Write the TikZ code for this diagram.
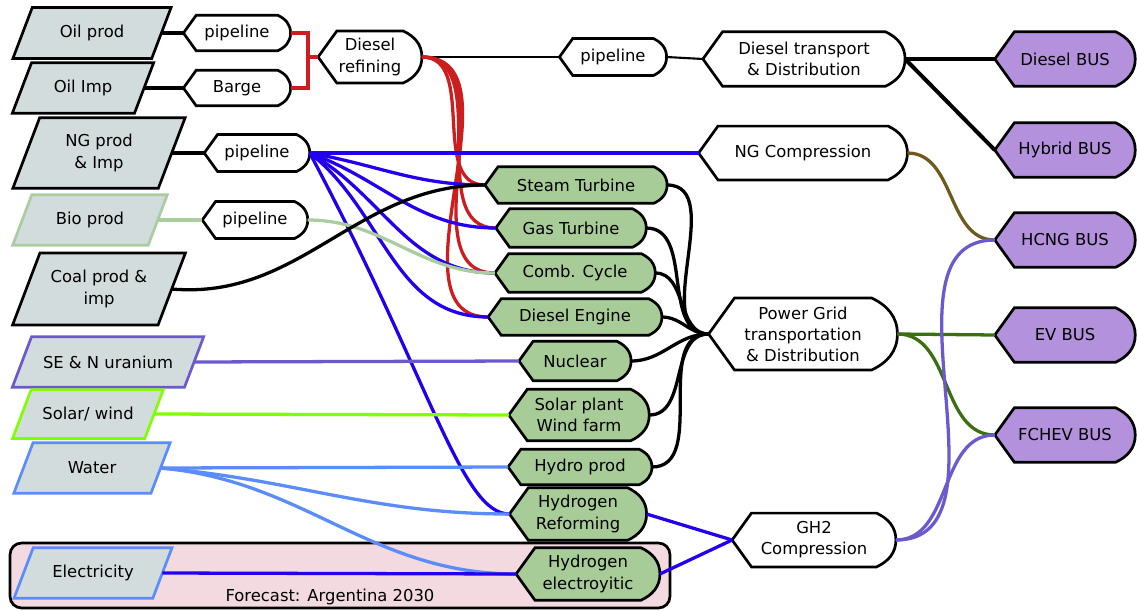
\documentclass[tikz,border=0pt]{standalone}
\usepackage{fontspec}
\setmainfont{DejaVu Sans}
\usetikzlibrary{shapes,backgrounds,calc}
\definecolor{srcgray}{RGB}{211,220,220}
\definecolor{procgreen}{RGB}{168,204,152}
\definecolor{buspurple}{RGB}{180,145,220}
\definecolor{fcpink}{RGB}{242,218,224}
\definecolor{oilred}{RGB}{204,30,30}
\definecolor{ngblue}{RGB}{34,0,238}
\definecolor{biogreen}{RGB}{170,205,160}
\definecolor{uranslate}{RGB}{106,90,205}
\definecolor{solarlime}{RGB}{127,255,0}
\definecolor{waterblue}{RGB}{90,140,250}
\definecolor{hcngbrown}{RGB}{110,90,30}
\definecolor{evgreen}{RGB}{60,110,20}

% outline of a display node: pointed left, rounded right
\newcommand{\dispshape}[2]{%
  \draw[outline, fill=#2] let \p1=(#1.north east), \p2=(#1.south west),
      \n1={0.36*(\y1-\y2)} in
    (#1.west) -- (\x2+\n1,\y1) -- (\x1-\n1,\y1) to[out=-25,in=90] (#1.east)
    to[out=-90,in=25] (\x1-\n1,\y2) -- (\x2+\n1,\y2) -- cycle;}
% outline of a source node: slanted box
\newcommand{\paraoutline}[2]{%
  \draw[outline, draw=#2, fill=srcgray] let \p1=(#1.north east), \p2=(#1.south west),
      \n1={0.19*(\y1-\y2)} in
    (\x2+\n1,\y1) -- (\x1+\n1,\y1) -- (\x1-\n1,\y2) -- (\x2-\n1,\y2) -- cycle;}

\begin{document}
\begin{tikzpicture}[
    x=0.03cm, y=-0.03cm,
    font=\fontsize{14}{18}\selectfont,
    src/.style={inner sep=0pt, align=center},
    disp/.style={inner sep=0pt, align=center},
    outline/.style={draw=black, line width=2.3pt},
    conn/.style={line width=2.8pt}
]
\useasboundingbox (0,0) rectangle (1137,610);

% Sources
\node[src, minimum width=4.15cm, minimum height=1.52cm] (oilprod) at (92,33) {Oil prod};
\node[src, minimum width=3.65cm, minimum height=1.5cm] (oilimp) at (83,88) {Oil Imp};
\node[src, minimum width=4.35cm, minimum height=2.1cm] (ngprod) at (99,153) {NG prod\\ \& Imp};
\node[src, minimum width=4.05cm, minimum height=1.5cm] (bioprod) at (90,220) {Bio prod};
\node[src, minimum width=4.35cm, minimum height=2.15cm] (coal) at (99,289) {Coal prod \&\\imp};
\node[src, minimum width=5.15cm, minimum height=1.5cm] (uranium) at (108,362) {SE \& N uranium};
\node[src, minimum width=3.95cm, minimum height=1.45cm] (solarwind) at (88,414) {Solar/ wind};
\node[src, minimum width=4.1cm, minimum height=1.5cm] (water) at (92,468) {Water};
\node[src, minimum width=4.15cm, minimum height=1.5cm] (elec) at (93,573) {Electricity};

% Carriers and hubs
\node[disp, minimum width=3.2cm, minimum height=1.05cm] (pipeoil) at (237,33) {pipeline};
\node[disp, minimum width=3.2cm, minimum height=1.05cm] (barge) at (237,88) {Barge};
\node[disp, minimum width=3.15cm, minimum height=1.1cm] (pipeng) at (257,153) {pipeline};
\node[disp, minimum width=3.15cm, minimum height=1.1cm] (pipebio) at (255,220) {pipeline};
\node[disp, minimum width=3.1cm, minimum height=1.55cm] (refine) at (370,57) {Diesel\\refining};
\node[disp, minimum width=3.2cm, minimum height=1.1cm] (pipediesel) at (613,57) {pipeline};
\node[disp, minimum width=6.05cm, minimum height=1.62cm] (diesdist) at (804,59) {Diesel transport\\\& Distribution};
\node[disp, minimum width=6.25cm, minimum height=1.6cm] (ngcomp) at (803,153) {NG Compression};
\node[disp, minimum width=5.65cm, minimum height=2.15cm] (grid) at (803,334) {Power Grid\\transportation\\\& Distribution};
\node[disp, minimum width=4.9cm, minimum height=1.6cm] (gh2) at (814,540) {GH2\\Compression};

% Plants
\node[disp, minimum width=5.45cm, minimum height=1.08cm] (steam) at (576,185) {Steam Turbine};
\node[disp, minimum width=4.5cm, minimum height=1.14cm] (gas) at (571,228) {Gas Turbine};
\node[disp, minimum width=4.8cm, minimum height=1.14cm] (comb) at (575,273) {Comb. Cycle};
\node[disp, minimum width=5.2cm, minimum height=1.08cm] (dieseng) at (575,317) {Diesel Engine};
\node[disp, minimum width=3.35cm, minimum height=1.17cm] (nuclear) at (575,361) {Nuclear};
\node[disp, minimum width=4.2cm, minimum height=1.53cm] (solarplant) at (579,415) {Solar plant\\Wind farm};
\node[disp, minimum width=4.3cm, minimum height=1.05cm] (hydro) at (580,467) {Hydro prod};
\node[disp, minimum width=4.1cm, minimum height=1.56cm] (reform) at (578,514) {Hydrogen\\Reforming};
\node[disp, minimum width=4.3cm, minimum height=1.56cm] (electro) at (588,574) {Hydrogen\\electroyitic};

% Buses
\node[disp, minimum width=4.2cm, minimum height=1.62cm] (dbus) at (1065,59) {Diesel BUS};
\node[disp, minimum width=4.2cm, minimum height=1.62cm] (hbus) at (1065,150) {Hybrid BUS};
\node[disp, minimum width=4.2cm, minimum height=1.62cm] (hcngbus) at (1065,240) {HCNG BUS};
\node[disp, minimum width=4.2cm, minimum height=1.62cm] (evbus) at (1065,335) {EV BUS};
\node[disp, minimum width=4.2cm, minimum height=1.62cm] (fchevbus) at (1065,435) {FCHEV BUS};

\node (fclabel) at (330,597) {Forecast: Argentina 2030};

% Shapes behind the texts
\begin{pgfonlayer}{background}
\draw[line width=2.3pt, rounded corners=0.35cm, fill=fcpink] (10,543) rectangle (670,608);
\foreach \nd/\bc in {oilprod/black,oilimp/black,ngprod/black,bioprod/biogreen,coal/black,
    uranium/uranslate,solarwind/solarlime,water/waterblue,elec/waterblue}
  {\paraoutline{\nd}{\bc}}
\foreach \nd in {pipeoil,barge,pipeng,pipebio,refine,pipediesel,diesdist,ngcomp,grid,gh2}
  {\dispshape{\nd}{white}}
\foreach \nd in {steam,gas,comb,dieseng,nuclear,solarplant,hydro,reform,electro}
  {\dispshape{\nd}{procgreen}}
\foreach \nd in {dbus,hbus,hcngbus,evbus,fchevbus}
  {\dispshape{\nd}{buspurple}}
\end{pgfonlayer}

% Oil
\draw[conn, line width=3.4pt] (oilprod.east) -- (pipeoil.west);
\draw[conn] (oilimp.east) -- (barge.west);
\coordinate (oiljoin) at (308,57);
\draw[conn, oilred] (pipeoil.east) -| (oiljoin) |- (barge.east);
\draw[conn, oilred] (oiljoin) -- (refine.west);
\draw[line width=1.8pt] (refine.east) -- (pipediesel.west);
\draw[line width=1.8pt] (pipediesel.east) -- (diesdist.west);
\draw[conn, line width=3.4pt] (diesdist.east) -- (dbus.west);
\draw[conn, line width=3.4pt] (diesdist.east) -- (hbus.west);
\foreach \tg in {steam,gas,comb,dieseng}
  \draw[conn, oilred] (refine.east) to[out=0,in=180] (\tg.west);

% Gas
\draw[conn] (ngprod.east) -- (pipeng.west);
\draw[conn, ngblue] (pipeng.east) -- (ngcomp.west);
\foreach \tg/\ang in {steam/-10,gas/-20,comb/-30,dieseng/-38}
  \draw[conn, ngblue] (pipeng.east) to[out=\ang,in=180] (\tg.west);
\draw[conn, ngblue] (pipeng.east)
  to[out=-62,in=180,out looseness=1.6,in looseness=0.3] (reform.west);

% Other feedstocks
\draw[conn, biogreen] (bioprod.east) -- (pipebio.west);
\draw[conn, biogreen] (pipebio.east) to[out=0,in=180] (comb.west);
\draw[conn] (coal.east) to[out=-5,in=180] (steam.west);
\draw[conn, uranslate] (uranium.east) -- (nuclear.west);
\draw[conn, solarlime] (solarwind.east) -- (solarplant.west);
\draw[conn, waterblue] (water.east) -- (hydro.west);
\draw[conn, waterblue] (water.east) to[out=-5,in=180] (reform.west);
\draw[conn, waterblue] (water.east) to[out=-5,in=180] (electro.west);
\draw[conn, ngblue] (elec.east) -- (electro.west);

% Plants to grid and hydrogen
\foreach \tg in {steam,gas,comb,dieseng,nuclear,solarplant,hydro}
  \draw[conn] (\tg.east) to[out=0,in=180] (grid.west);
\draw[conn, ngblue] (reform.east) -- (gh2.west);
\draw[conn, ngblue] (electro.east) -- (gh2.west);

% Buses
\draw[conn, hcngbrown] (ngcomp.east) to[out=0,in=180] (hcngbus.west);
\draw[conn, evgreen] (grid.east) -- (evbus.west);
\draw[conn, evgreen] (grid.east) to[out=0,in=180] (fchevbus.west);
\draw[conn, uranslate] (gh2.east) to[out=0,in=180] (hcngbus.west);
\draw[conn, uranslate] (gh2.east) to[out=0,in=180] (fchevbus.west);

\end{tikzpicture}
\end{document}
